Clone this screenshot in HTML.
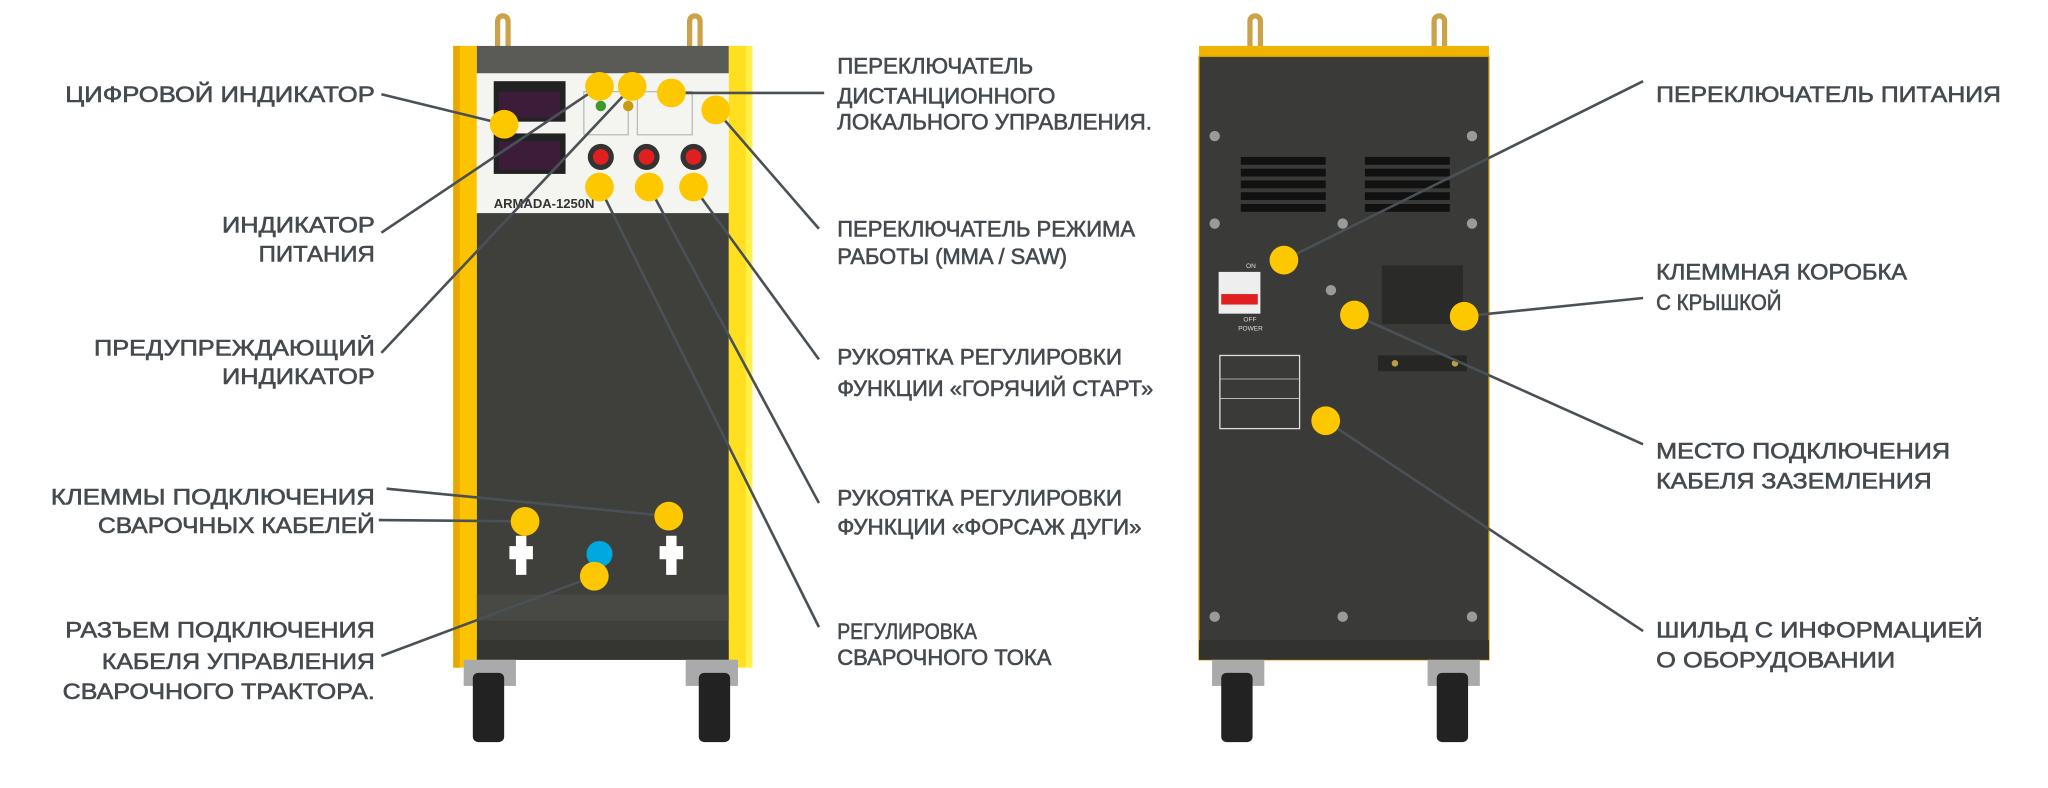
<!DOCTYPE html>
<html><head><meta charset="utf-8"><style>
html,body{margin:0;padding:0;background:#fff;width:2048px;height:788px;overflow:hidden}
svg{display:block}
text{font-family:"Liberation Sans","DejaVu Sans",sans-serif;font-size:17px;fill:#454a4f;stroke:#454a4f;stroke-width:0.45}
.l{stroke:#4a5156;stroke-width:2;fill:none}
.d{fill:#fdc800}
.s{fill:#9a9a98}
</style></head><body>
<svg width="2048" height="788" viewBox="0 0 1568 603" xmlns="http://www.w3.org/2000/svg">
<!-- LEFT MACHINE -->
<g>
<path d="M381 36 V16 a4 4 0 0 1 8 0 V36" fill="none" stroke="#c9a24a" stroke-width="4"/>
<path d="M528 36 V16 a4 4 0 0 1 8 0 V36" fill="none" stroke="#c9a24a" stroke-width="4"/>
<rect x="365" y="35" width="193" height="21" fill="#5a5a57"/>
<rect x="365" y="56" width="193" height="107" fill="#f4f4f0"/>
<rect x="365" y="163" width="193" height="342" fill="#3f3f3c"/>
<rect x="365" y="455" width="193" height="20" fill="#484845"/>
<rect x="365" y="490" width="193" height="15" fill="#353532"/>
<rect x="347" y="35" width="18" height="476" fill="#fcc400"/>
<rect x="558" y="35" width="18" height="476" fill="#ffdf20"/>
<rect x="347" y="35" width="5" height="476" fill="#e8a800"/>
<rect x="571" y="35" width="5" height="476" fill="#fff04a"/>
<rect x="378" y="62" width="55" height="31" fill="#222"/><rect x="382" y="70" width="47" height="20" fill="#3b1d3a"/>
<rect x="378" y="102" width="55" height="31" fill="#222"/><rect x="382" y="108" width="47" height="22" fill="#3b1d3a"/>
<rect x="447" y="70" width="34" height="33" fill="none" stroke="#bbb"/>
<rect x="488" y="70" width="42" height="33" fill="none" stroke="#bbb"/>
<circle cx="460" cy="81" r="4" fill="#3a9a2a"/><circle cx="481" cy="81" r="4" fill="#c89b10"/>
<circle cx="460" cy="120" r="10" fill="#333"/><circle cx="460" cy="120" r="6" fill="#e02020"/>
<circle cx="495" cy="120" r="10" fill="#333"/><circle cx="495" cy="120" r="6" fill="#e02020"/>
<circle cx="531" cy="120" r="10" fill="#333"/><circle cx="531" cy="120" r="6" fill="#e02020"/>
<text x="378" y="159" style="font-size:10px;font-weight:bold;fill:#333;stroke:none">ARMADA-1250N</text>
<path d="M395 410 h8 v8 h5 v10 h-5 v12 h-8 v-12 h-5 v-10 h5z" fill="#fff"/>
<path d="M510 410 h8 v8 h5 v10 h-5 v12 h-8 v-12 h-5 v-10 h5z" fill="#fff"/>
<rect x="355" y="505" width="40" height="20" fill="#aaa"/><rect x="362" y="515" width="24" height="53" rx="4" fill="#222"/>
<rect x="525" y="505" width="40" height="20" fill="#aaa"/><rect x="535" y="515" width="24" height="53" rx="4" fill="#222"/>
<circle cx="459" cy="424" r="10" fill="#00a8e0"/>
</g>
<!-- RIGHT MACHINE -->
<g>
<path d="M957 36 V16 a4 4 0 0 1 8 0 V36" fill="none" stroke="#c9a24a" stroke-width="4"/>
<path d="M1098 36 V16 a4 4 0 0 1 8 0 V36" fill="none" stroke="#c9a24a" stroke-width="4"/>
<rect x="918" y="35" width="222" height="8" fill="#f0b400"/>
<rect x="918" y="43" width="222" height="462" fill="#3a3a38" stroke="#d8a000" stroke-width="1"/>
<rect x="918" y="490" width="222" height="15" fill="#323230"/>
<g fill="#111">
<rect x="950" y="120" width="65" height="6"/><rect x="950" y="129" width="65" height="6"/><rect x="950" y="138" width="65" height="6"/><rect x="950" y="147" width="65" height="6"/><rect x="950" y="156" width="65" height="6"/>
<rect x="1045" y="120" width="65" height="6"/><rect x="1045" y="129" width="65" height="6"/><rect x="1045" y="138" width="65" height="6"/><rect x="1045" y="147" width="65" height="6"/><rect x="1045" y="156" width="65" height="6"/>
</g>
<g class="s">
<circle cx="930" cy="104" r="4"/><circle cx="1127" cy="104" r="4"/>
<circle cx="930" cy="171" r="4"/><circle cx="1028" cy="171" r="4"/><circle cx="1127" cy="171" r="4"/>
<circle cx="930" cy="472" r="4"/><circle cx="1028" cy="472" r="4"/><circle cx="1127" cy="472" r="4"/>
<circle cx="1019" cy="222" r="4"/>
</g>
<rect x="933" y="208" width="32" height="32" fill="#eee"/><rect x="935" y="225" width="28" height="8" fill="#e02020"/>
<text x="954" y="205" style="font-size:5px;fill:#ddd;stroke:none">ON</text>
<text x="952" y="246" style="font-size:5px;fill:#ddd;stroke:none">OFF</text>
<text x="948" y="253" style="font-size:5px;fill:#ddd;stroke:none">POWER</text>
<rect x="1058" y="203" width="62" height="45" fill="#2a2a28"/>
<rect x="1055" y="272" width="68" height="12" fill="#262624"/>
<circle cx="1068" cy="278" r="2.5" fill="#b8a040"/><circle cx="1114" cy="278" r="2.5" fill="#b8a040"/>
<rect x="934" y="272" width="61" height="56" fill="none" stroke="#ddd" stroke-width="1"/>
<line x1="934" y1="290" x2="995" y2="290" stroke="#ccc" stroke-width="0.6"/>
<line x1="934" y1="305" x2="995" y2="305" stroke="#ccc" stroke-width="0.6"/>
<rect x="928" y="505" width="40" height="20" fill="#aaa"/><rect x="935" y="515" width="24" height="53" rx="4" fill="#222"/>
<rect x="1093" y="505" width="40" height="20" fill="#aaa"/><rect x="1100" y="515" width="24" height="53" rx="4" fill="#222"/>
</g>
<!-- LINES -->
<g class="l">
<line x1="292" y1="72" x2="386" y2="95"/>
<line x1="292" y1="178" x2="459" y2="66"/>
<line x1="292" y1="270" x2="484" y2="66"/>
<line x1="296" y1="374" x2="512" y2="395"/>
<line x1="290" y1="398" x2="402" y2="399"/>
<line x1="292" y1="502" x2="455" y2="441"/>
<line x1="631" y1="71" x2="514" y2="71"/>
<line x1="627" y1="175" x2="548" y2="84"/>
<line x1="627" y1="275" x2="531" y2="143"/>
<line x1="627" y1="385" x2="497" y2="143"/>
<line x1="627" y1="480" x2="459" y2="143"/>
<line x1="1258" y1="62" x2="983" y2="199"/>
<line x1="1258" y1="228" x2="1121" y2="242"/>
<line x1="1258" y1="340" x2="1037" y2="241"/>
<line x1="1258" y1="483" x2="1015" y2="322"/>
</g>
<!-- DOTS -->
<g class="d">
<circle cx="386" cy="95" r="11"/><circle cx="459" cy="66" r="11"/><circle cx="484" cy="66" r="11"/>
<circle cx="514" cy="71" r="11"/><circle cx="548" cy="84" r="11"/>
<circle cx="459" cy="143" r="11"/><circle cx="497" cy="143" r="11"/><circle cx="531" cy="143" r="11"/>
<circle cx="402" cy="399" r="11"/><circle cx="512" cy="395" r="11"/><circle cx="455" cy="441" r="11"/>
<circle cx="983" cy="199" r="11"/><circle cx="1037" cy="241" r="11"/><circle cx="1121" cy="242" r="11"/><circle cx="1015" cy="322" r="11"/>
</g>
<!-- LEFT LABELS -->
<g text-anchor="end">
<text x="287" y="78" textLength="237" lengthAdjust="spacingAndGlyphs">ЦИФРОВОЙ ИНДИКАТОР</text>
<text x="287" y="178" textLength="117" lengthAdjust="spacingAndGlyphs">ИНДИКАТОР</text>
<text x="287" y="200" textLength="89" lengthAdjust="spacingAndGlyphs">ПИТАНИЯ</text>
<text x="287" y="272" textLength="215" lengthAdjust="spacingAndGlyphs">ПРЕДУПРЕЖДАЮЩИЙ</text>
<text x="287" y="294" textLength="117" lengthAdjust="spacingAndGlyphs">ИНДИКАТОР</text>
<text x="287" y="386" textLength="248" lengthAdjust="spacingAndGlyphs">КЛЕММЫ ПОДКЛЮЧЕНИЯ</text>
<text x="287" y="408" textLength="212" lengthAdjust="spacingAndGlyphs">СВАРОЧНЫХ КАБЕЛЕЙ</text>
<text x="287" y="488" textLength="237" lengthAdjust="spacingAndGlyphs">РАЗЪЕМ ПОДКЛЮЧЕНИЯ</text>
<text x="287" y="512" textLength="209" lengthAdjust="spacingAndGlyphs">КАБЕЛЯ УПРАВЛЕНИЯ</text>
<text x="287" y="535" textLength="239" lengthAdjust="spacingAndGlyphs">СВАРОЧНОГО ТРАКТОРА.</text>
</g>
<!-- MIDDLE LABELS -->
<g>
<text x="641" y="56" textLength="150" lengthAdjust="spacingAndGlyphs">ПЕРЕКЛЮЧАТЕЛЬ</text>
<text x="641" y="79" textLength="167" lengthAdjust="spacingAndGlyphs">ДИСТАНЦИОННОГО</text>
<text x="641" y="99" textLength="241" lengthAdjust="spacingAndGlyphs">ЛОКАЛЬНОГО УПРАВЛЕНИЯ.</text>
<text x="641" y="181" textLength="228" lengthAdjust="spacingAndGlyphs">ПЕРЕКЛЮЧАТЕЛЬ РЕЖИМА</text>
<text x="641" y="202" textLength="176" lengthAdjust="spacingAndGlyphs">РАБОТЫ (MMA / SAW)</text>
<text x="641" y="279" textLength="218" lengthAdjust="spacingAndGlyphs">РУКОЯТКА РЕГУЛИРОВКИ</text>
<text x="641" y="303" textLength="242" lengthAdjust="spacingAndGlyphs">ФУНКЦИИ «ГОРЯЧИЙ СТАРТ»</text>
<text x="641" y="387" textLength="218" lengthAdjust="spacingAndGlyphs">РУКОЯТКА РЕГУЛИРОВКИ</text>
<text x="641" y="409" textLength="233" lengthAdjust="spacingAndGlyphs">ФУНКЦИИ «ФОРСАЖ ДУГИ»</text>
<text x="641" y="489" textLength="107" lengthAdjust="spacingAndGlyphs">РЕГУЛИРОВКА</text>
<text x="641" y="509" textLength="164" lengthAdjust="spacingAndGlyphs">СВАРОЧНОГО ТОКА</text>
</g>
<!-- RIGHT LABELS -->
<g>
<text x="1268" y="78" textLength="264" lengthAdjust="spacingAndGlyphs">ПЕРЕКЛЮЧАТЕЛЬ ПИТАНИЯ</text>
<text x="1268" y="214" textLength="192" lengthAdjust="spacingAndGlyphs">КЛЕММНАЯ КОРОБКА</text>
<text x="1268" y="237" textLength="96" lengthAdjust="spacingAndGlyphs">С КРЫШКОЙ</text>
<text x="1268" y="351" textLength="225" lengthAdjust="spacingAndGlyphs">МЕСТО ПОДКЛЮЧЕНИЯ</text>
<text x="1268" y="374" textLength="211" lengthAdjust="spacingAndGlyphs">КАБЕЛЯ ЗАЗЕМЛЕНИЯ</text>
<text x="1268" y="488" textLength="250" lengthAdjust="spacingAndGlyphs">ШИЛЬД С ИНФОРМАЦИЕЙ</text>
<text x="1268" y="511" textLength="183" lengthAdjust="spacingAndGlyphs">О ОБОРУДОВАНИИ</text>
</g>
</svg>
</body></html>
